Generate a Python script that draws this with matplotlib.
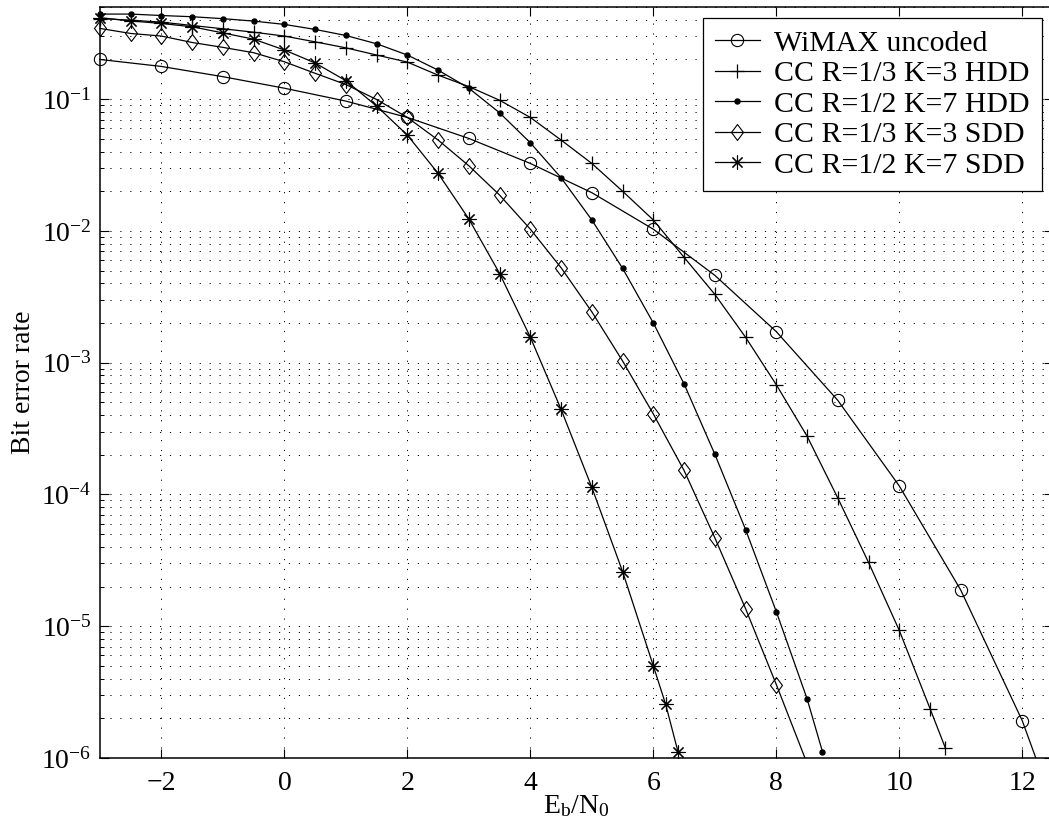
import numpy as np
import matplotlib
matplotlib.use("Agg")
import matplotlib.pyplot as plt
from matplotlib.path import Path
from matplotlib.transforms import Bbox, TransformedBbox
from matplotlib.ticker import LogLocator, NullFormatter

plt.rcParams['font.family'] = 'Liberation Serif'
plt.rcParams['mathtext.fontset'] = 'custom'
plt.rcParams['mathtext.rm'] = 'Liberation Serif'
plt.rcParams['mathtext.it'] = 'Liberation Serif:italic'
plt.rcParams['mathtext.bf'] = 'Liberation Serif:bold'

# BER curves, Eb/N0 in dB
ebn0_unc = [-3, -2, -1, 0, 1, 2, 3, 4, 5, 6, 7, 8, 9, 10, 11, 12, 13]
ber_unc = [0.200, 0.177, 0.148, 0.121, 0.0966, 0.0726, 0.0503, 0.0325, 0.0195,
           0.0103, 4.6e-3, 1.72e-3, 5.18e-4, 1.16e-4, 1.88e-5, 1.92e-6, 1.0e-7]

ebn0_hdd3 = [-3, -2.5, -2, -1.5, -1, -0.5, 0, 0.5, 1, 1.5, 2, 2.5, 3, 3.5, 4, 4.5,
             5, 5.5, 6, 6.5, 7, 7.5, 8, 8.5, 9, 9.5, 10, 10.5, 10.75]
ber_hdd3 = [0.409, 0.397, 0.384, 0.362, 0.342, 0.322, 0.301, 0.272, 0.245, 0.216,
            0.191, 0.152, 0.1245, 0.098, 0.0726, 0.0489, 0.0325, 0.0200, 0.0121,
            6.3e-3, 3.3e-3, 1.56e-3, 6.8e-4, 2.77e-4, 9.4e-5, 3.05e-5, 9.3e-6,
            2.37e-6, 1.19e-6]

ebn0_hdd7 = [-3, -2.5, -2, -1.5, -1, -0.5, 0, 0.5, 1, 1.5, 2, 2.5, 3, 3.5, 4, 4.5,
             5, 5.5, 6, 6.5, 7, 7.5, 8, 8.5, 8.75]
ber_hdd7 = [0.442, 0.442, 0.431, 0.422, 0.408, 0.391, 0.369, 0.338, 0.304, 0.263,
            0.216, 0.166, 0.121, 0.0787, 0.0466, 0.0253, 0.0121, 5.2e-3, 2.0e-3,
            6.9e-4, 2.02e-4, 5.42e-5, 1.29e-5, 2.82e-6, 1.12e-6]

ebn0_sdd3 = [-3, -2.5, -2, -1.5, -1, -0.5, 0, 0.5, 1, 1.5, 2, 2.5, 3, 3.5, 4, 4.5,
             5, 5.5, 6, 6.5, 7, 7.5, 8, 9]
ber_sdd3 = [0.344, 0.315, 0.301, 0.269, 0.247, 0.225, 0.192, 0.157, 0.129, 0.0993,
            0.0726, 0.0489, 0.0312, 0.0187, 0.0103, 5.25e-3, 2.43e-3, 1.03e-3,
            4.08e-4, 1.52e-4, 4.69e-5, 1.36e-5, 3.61e-6, 2.3e-7]

ebn0_sdd7 = [-3, -2.5, -2, -1.5, -1, -0.5, 0, 0.5, 1, 1.5, 2, 2.5, 3, 3.5, 4, 4.5,
             5, 5.5, 6, 6.2, 6.4]
ber_sdd7 = [0.415, 0.392, 0.375, 0.354, 0.318, 0.285, 0.236, 0.188, 0.138, 0.0885,
            0.0533, 0.0273, 0.0123, 4.75e-3, 1.56e-3, 4.42e-4, 1.13e-4, 2.6e-5,
            5.0e-6, 2.56e-6, 1.12e-6]

labels = ['WiMAX uncoded', 'CC R=1/3 K=3 HDD', 'CC R=1/2 K=7 HDD',
          'CC R=1/3 K=3 SDD', 'CC R=1/2 K=7 SDD']

# tall diamond like the one matlab draws
diamond = Path([(0, 1), (0.75, 0), (0, -1), (-0.75, 0), (0, 1)],
               [Path.MOVETO, Path.LINETO, Path.LINETO, Path.LINETO, Path.CLOSEPOLY])

fig = plt.figure(figsize=(10.49, 8.36), dpi=100)
ax = fig.add_axes([0.0953, 0.0933, 0.9085, 0.8983])

lw = 0.9
lines = []
lines += ax.semilogy(ebn0_unc, ber_unc, 'k-', lw=lw, marker='o', ms=8.8,
                     mfc='none', mec='k', mew=0.8, label=labels[0])
lines += ax.semilogy(ebn0_hdd3, ber_hdd3, 'k-', lw=lw, marker='+', ms=10,
                     mew=0.9, label=labels[1])
lines += ax.semilogy(ebn0_hdd7, ber_hdd7, 'k-', lw=lw, marker='o', ms=3.6,
                     mfc='k', mec='k', label=labels[2])
lines += ax.semilogy(ebn0_sdd3, ber_sdd3, 'k-', lw=lw, marker=diamond, ms=11.5,
                     mfc='none', mec='k', mew=0.8, label=labels[3])
lines += ax.semilogy(ebn0_sdd7, ber_sdd7, 'k-', lw=lw, marker=(8, 2, 0), ms=10,
                     mec='k', mew=0.8, label=labels[4])

# let markers on the left edge show whole, keep the bottom clipped
clip = TransformedBbox(Bbox([[-0.03, 0.0], [1.0, 1.03]]), ax.transAxes)
for ln in lines:
    ln.set_clip_box(clip)

ax.set_xlim(-3, 12.5)
ax.set_ylim(1e-6, 0.5)
ax.set_xticks([-2, 0, 2, 4, 6, 8, 10, 12])
ax.yaxis.set_major_locator(LogLocator(base=10, numticks=20))
ax.yaxis.set_minor_locator(LogLocator(base=10, subs=np.arange(2, 10), numticks=20))
ax.yaxis.set_minor_formatter(NullFormatter())

ax.tick_params(which='both', direction='in', top=True, right=True, labelsize=20)
ax.tick_params(which='major', length=6.5, width=0.8)
ax.tick_params(which='minor', length=3.2, width=0.7)
ax.tick_params(axis='x', pad=9)
ax.tick_params(axis='y', pad=6)
for s in ax.spines.values():
    s.set_linewidth(1.1)

grid_style = dict(color='k', linestyle=(0, (1.2, 9)), linewidth=0.7)
ax.xaxis.grid(True, which='major', **grid_style)
ax.yaxis.grid(True, which='both', **grid_style)

ax.set_xlabel(r'E$_\mathrm{b}$/N$_\mathrm{0}$', fontsize=20, labelpad=-2)
ax.set_ylabel('Bit error rate', fontsize=20, labelpad=4)

leg = ax.legend(loc='upper right', bbox_to_anchor=(0.9885, 0.9853),
                borderaxespad=0, fontsize=21.5, labelspacing=0.12,
                handlelength=1.5, handletextpad=0.5, borderpad=0.4,
                fancybox=False, framealpha=1, edgecolor='k')
leg.get_frame().set_linewidth(0.9)

fig.savefig('out.png', dpi=100)
